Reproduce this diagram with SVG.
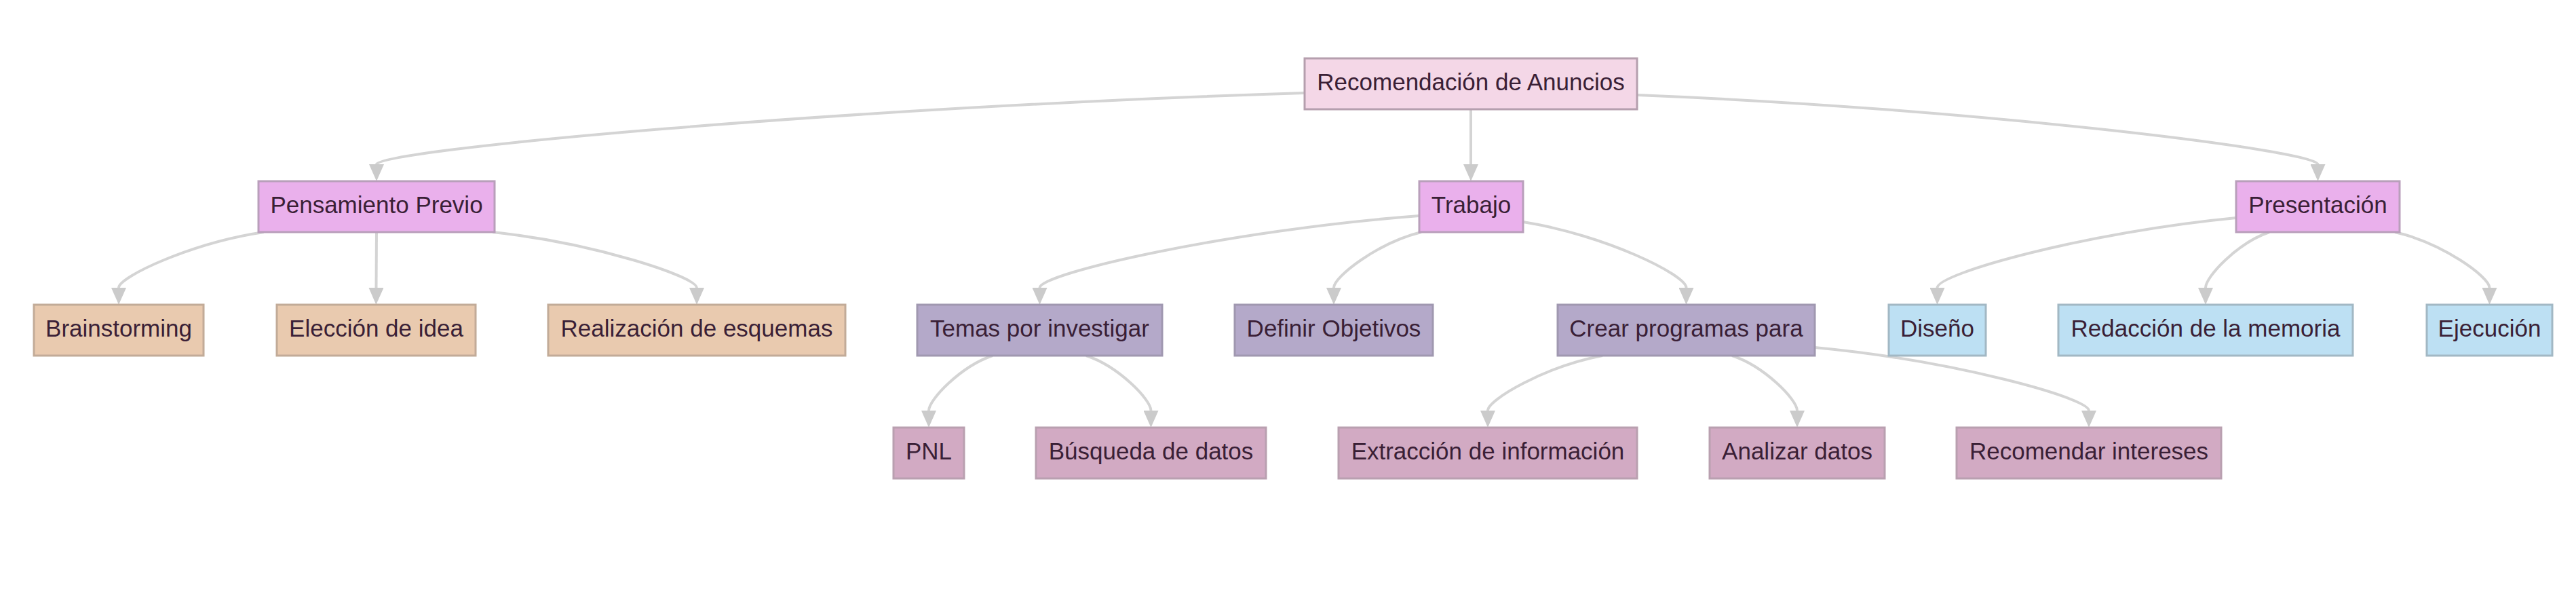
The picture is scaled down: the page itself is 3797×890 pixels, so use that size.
<svg xmlns="http://www.w3.org/2000/svg" width="3797" height="890" viewBox="0 0 3797 890">
<style>
  .n rect { stroke-width: 3; }
  .n text { font-family: "Liberation Sans", Arial, sans-serif; font-size: 35px; text-anchor: middle; fill: #3a1f36; }
  .root rect { fill: #f4d7e7; stroke: #b59fae; }
  .l1 rect { fill: #eab0ec; stroke: #b99fbb; }
  .pp rect { fill: #e9caaf; stroke: #c2ab98; }
  .tr rect { fill: #b4a9c9; stroke: #a098b0; }
  .pr rect { fill: #bde0f3; stroke: #a2b8c4; }
  .l3 rect { fill: #d2aac3; stroke: #b9a0b0; }
  #edges path { fill: none; stroke: #d4d4d4; stroke-width: 4; marker-end: url(#arr); }
</style>
<defs>
  <marker id="arr" markerUnits="userSpaceOnUse" viewBox="0 0 25 22" markerWidth="25" markerHeight="22" refX="0" refY="11" orient="auto">
    <path d="M0,0 L25,11 L0,22 Z" fill="#cbcbcb"/>
  </marker>
</defs>
<rect width="3797" height="890" fill="#ffffff"/>
<g id="edges">
  <path d="M1923,137 C1239,158 555,221 555,242"/>
  <path d="M2168,161 L2168,242"/>
  <path d="M2413,140 C2915,160 3416.5,222 3416.5,242"/>
  <path d="M389,342 C282,358 175,408 175,424"/>
  <path d="M555,342 L554.5,424"/>
  <path d="M726,342 C876.5,358 1027,408 1027,424"/>
  <path d="M2092,318 C1812,339 1532.5,403 1532.5,424"/>
  <path d="M2095,342 C2030.5,358 1966,408 1966,424"/>
  <path d="M2245,327 C2365,346 2485.5,405 2485.5,424"/>
  <path d="M3296,321 C3076,342 2855.5,403 2855.5,424"/>
  <path d="M3345,342 C3298,358 3251,408 3251,424"/>
  <path d="M3530,342 C3600,358 3669.5,408 3669.5,424"/>
  <path d="M1463,524 C1416,540 1369,589 1369,605"/>
  <path d="M1601,524 C1649,540 1696.5,589 1696.5,605"/>
  <path d="M2362,524 C2277.5,540 2193,589 2193,605"/>
  <path d="M2553,524 C2601,540 2649,589 2649,605"/>
  <path d="M2675,512 C2877,531 3079,586 3079,605"/>
</g>
<g id="n-root" class="n root"><rect x="1923" y="86" width="490" height="75"/><text x="2168" y="133">Recomendación de Anuncios</text></g>
<g id="n-pensamiento" class="n l1"><rect x="381" y="267" width="348" height="75"/><text x="555" y="314">Pensamiento Previo</text></g>
<g id="n-trabajo" class="n l1"><rect x="2092" y="267" width="153" height="75"/><text x="2168.5" y="314">Trabajo</text></g>
<g id="n-presentacion" class="n l1"><rect x="3296" y="267" width="241" height="75"/><text x="3416.5" y="314">Presentación</text></g>
<g id="n-brainstorming" class="n pp"><rect x="50" y="449" width="250" height="75"/><text x="175" y="496">Brainstorming</text></g>
<g id="n-eleccion" class="n pp"><rect x="408" y="449" width="293" height="75"/><text x="554.5" y="496">Elección de idea</text></g>
<g id="n-realizacion" class="n pp"><rect x="808" y="449" width="438" height="75"/><text x="1027" y="496">Realización de esquemas</text></g>
<g id="n-temas" class="n tr"><rect x="1352" y="449" width="361" height="75"/><text x="1532.5" y="496">Temas por investigar</text></g>
<g id="n-definir" class="n tr"><rect x="1820" y="449" width="292" height="75"/><text x="1966" y="496">Definir Objetivos</text></g>
<g id="n-crear" class="n tr"><rect x="2296" y="449" width="379" height="75"/><text x="2485.5" y="496">Crear programas para</text></g>
<g id="n-diseno" class="n pr"><rect x="2784" y="449" width="143" height="75"/><text x="2855.5" y="496">Diseño</text></g>
<g id="n-redaccion" class="n pr"><rect x="3034" y="449" width="434" height="75"/><text x="3251" y="496">Redacción de la memoria</text></g>
<g id="n-ejecucion" class="n pr"><rect x="3577" y="449" width="185" height="75"/><text x="3669.5" y="496">Ejecución</text></g>
<g id="n-pnl" class="n l3"><rect x="1317" y="630" width="104" height="75"/><text x="1369" y="677">PNL</text></g>
<g id="n-busqueda" class="n l3"><rect x="1527" y="630" width="339" height="75"/><text x="1696.5" y="677">Búsqueda de datos</text></g>
<g id="n-extraccion" class="n l3"><rect x="1973" y="630" width="440" height="75"/><text x="2193" y="677">Extracción de información</text></g>
<g id="n-analizar" class="n l3"><rect x="2520" y="630" width="258" height="75"/><text x="2649" y="677">Analizar datos</text></g>
<g id="n-recomendar" class="n l3"><rect x="2884" y="630" width="390" height="75"/><text x="3079" y="677">Recomendar intereses</text></g>
</svg>
